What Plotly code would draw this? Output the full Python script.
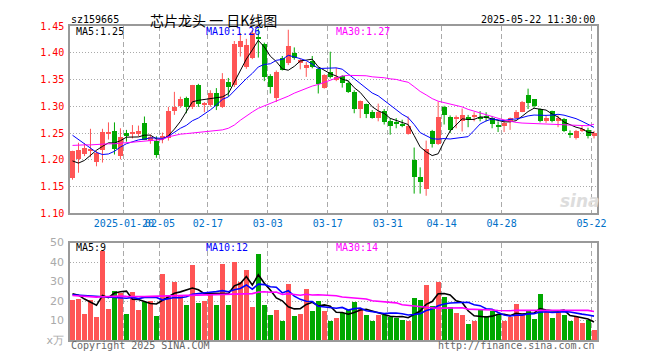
import numpy as np
import pandas as pd
import plotly.graph_objects as go

# ---------------- data ----------------
opens = [1.166,1.201,1.211,1.217,1.196,1.218,1.249,1.253,1.208,1.250,
         1.248,1.248,1.268,1.236,1.236,1.241,1.240,1.291,1.300,1.315,
         1.299,1.340,1.302,1.302,1.325,1.299,1.346,1.339,1.411,1.373,
         1.390,1.430,1.416,1.356,1.316,1.391,1.381,1.399,1.381,1.372,
         1.385,1.370,1.334,1.364,1.350,1.356,1.343,1.327,1.295,1.304,
         1.289,1.279,1.292,1.272,1.270,1.267,1.249,1.199,1.168,1.146,
         1.253,1.230,1.299,1.281,1.276,1.272,1.281,1.280,1.281,1.282,
         1.279,1.266,1.263,1.271,1.279,1.290,1.322,1.313,1.295,1.273,
         1.291,1.272,1.277,1.250,1.240,1.254,1.256,1.244]
highs = [1.217,1.232,1.231,1.258,1.217,1.258,1.270,1.270,1.259,1.256,
         1.265,1.264,1.281,1.247,1.244,1.251,1.299,1.327,1.318,1.318,
         1.340,1.342,1.308,1.330,1.334,1.362,1.353,1.422,1.437,1.426,
         1.442,1.445,1.419,1.360,1.367,1.394,1.443,1.410,1.389,1.383,
         1.394,1.373,1.360,1.402,1.372,1.358,1.348,1.330,1.311,1.305,
         1.293,1.305,1.295,1.278,1.278,1.275,1.281,1.223,1.186,1.236,
         1.256,1.309,1.301,1.283,1.283,1.296,1.284,1.289,1.291,1.289,
         1.282,1.272,1.275,1.279,1.293,1.310,1.333,1.313,1.296,1.283,
         1.292,1.283,1.278,1.255,1.256,1.264,1.260,1.254]
lows = [1.163,1.176,1.207,1.205,1.188,1.195,1.238,1.210,1.201,1.234,
        1.240,1.244,1.237,1.230,1.204,1.231,1.236,1.284,1.297,1.287,
        1.295,1.299,1.289,1.299,1.293,1.297,1.318,1.336,1.393,1.370,
        1.388,1.391,1.347,1.324,1.308,1.367,1.377,1.387,1.369,1.355,
        1.371,1.324,1.333,1.352,1.347,1.335,1.325,1.287,1.278,1.278,
        1.277,1.272,1.266,1.247,1.259,1.261,1.247,1.137,1.137,1.133,
        1.223,1.228,1.266,1.250,1.259,1.253,1.261,1.272,1.272,1.272,
        1.259,1.252,1.252,1.256,1.277,1.289,1.295,1.297,1.270,1.269,
        1.270,1.261,1.252,1.241,1.238,1.252,1.240,1.240]
closes = [1.216,1.219,1.222,1.221,1.212,1.252,1.252,1.221,1.242,1.245,
          1.252,1.254,1.238,1.242,1.210,1.245,1.291,1.299,1.314,1.299,
          1.339,1.305,1.307,1.325,1.300,1.351,1.336,1.417,1.422,1.415,
          1.437,1.425,1.355,1.336,1.365,1.368,1.413,1.391,1.386,1.377,
          1.373,1.342,1.359,1.354,1.355,1.343,1.327,1.295,1.310,1.285,
          1.279,1.289,1.271,1.264,1.267,1.264,1.264,1.168,1.158,1.221,
          1.229,1.281,1.283,1.255,1.281,1.283,1.275,1.284,1.278,1.278,
          1.267,1.263,1.269,1.278,1.289,1.308,1.307,1.300,1.272,1.278,
          1.272,1.278,1.253,1.248,1.254,1.258,1.244,1.250]
volumes = [21,21.5,13.5,21,12,46,16,25.5,24.5,13.5,
           25,15.5,19.5,20,12.5,34,23.5,30,23.5,18,
           38.5,19,20,24,18,39,18,40,30,36,
           17,44.4,18,13,15.4,9.8,29.2,12.4,13.4,26.6,
           15,20,15,10,11.3,14.2,15.8,19.5,16.3,12.9,
           9.8,12.9,13.2,12.2,11.5,10.3,9.8,22,20.7,28.6,
           17.5,29.8,22.5,17.1,13.9,12.9,8.5,9.8,15.6,12.4,
           14.9,13.5,9.8,11.9,18.5,12.9,14.9,10.8,23.6,14.4,
           11.3,14.4,12.9,9.8,11.9,8.8,10.3,5.2]

# moving-average values before the full window is available
ma5_head = [1.198,1.194,1.199,1.208]
ma10_head = [1.246,1.238,1.230,1.222,1.214,1.210,1.211,1.216,1.224]
ma30_head = [1.227,1.228,1.228,1.228,1.229,1.229,1.230,1.230,1.231,1.232,
             1.232,1.233,1.234,1.235,1.236,1.238,1.243,1.246,1.248,1.249,
             1.250,1.251,1.252,1.253,1.254,1.256,1.259,1.265,1.274]
vma5_head = [23.7,23.0,21.0,19.5]
vma10_head = [23.2,23.0,22.8,22.5,22.3,22.2,22.0,21.8,21.6]
vma30_head = [22.8,22.6,22.4,22.2,22.0,22.2,22.4,22.5,22.5,22.4,
              22.3,22.2,22.3,22.4,22.5,22.6,22.7,22.8,22.8,22.9,
              22.9,23.0,23.0,23.1,23.2,23.3,23.4,23.5,23.6]

tick_idx = [9,15,23,33,43,53,62,72,87]
tick_labels = ["2025-01-20","02-05","02-17","03-03","03-17","03-31","04-14","04-28","05-22"]
price_ticks = [1.10,1.15,1.20,1.25,1.30,1.35,1.40,1.45]
vol_ticks = [0,10,20,30,40,50]
vol_tick_labels = ["x万","10","20","30","40","50"]

title_text = "芯片龙头 一 日K线图"
code_text = "sz159665"
time_text = "2025-05-22 11:30:00"

# ---------------- derived ----------------
n = len(closes)
x = np.arange(n)
o = np.array(opens); c = np.array(closes); h = np.array(highs); l = np.array(lows)
v = np.array(volumes)
up = c >= o

def ma(arr, w, head):
    s = pd.Series(arr).rolling(w).mean().to_numpy()
    s[:len(head)] = head
    return s

ma5 = ma(c, 5, ma5_head); ma10 = ma(c, 10, ma10_head); ma30 = ma(c, 30, ma30_head)
vma5 = ma(v, 5, vma5_head); vma10 = ma(v, 10, vma10_head); vma30 = ma(v, 30, vma30_head)

RED = "#FF5555"; GREEN = "#00A800"
MONO = "DejaVu Sans Mono"

fig = go.Figure()

# wicks
for mask, col in [(up, RED), (~up, GREEN)]:
    wx, wy = [], []
    for i in np.where(mask)[0]:
        wx += [x[i], x[i], None]
        wy += [l[i], h[i], None]
    fig.add_trace(go.Scatter(x=wx, y=wy, mode="lines", line=dict(color=col, width=1),
                             hoverinfo="skip", xaxis="x", yaxis="y"))

# bodies
body_base = np.minimum(o, c)
body_h = np.maximum(np.abs(c - o), 0.0019)
fig.add_trace(go.Bar(x=x, y=body_h, base=body_base, width=5/6,
                     marker=dict(color=[RED if u else GREEN for u in up], line_width=0),
                     xaxis="x", yaxis="y"))

# price MAs
for s, col in [(ma5, "black"), (ma10, "#0000FF"), (ma30, "#FF00FF")]:
    fig.add_trace(go.Scatter(x=x, y=s, mode="lines", line=dict(color=col, width=1),
                             xaxis="x", yaxis="y"))

# volume
fig.add_trace(go.Bar(x=x, y=v, width=5/6,
                     marker=dict(color=[RED if u else GREEN for u in up], line_width=0),
                     xaxis="x2", yaxis="y2"))
for s, col in [(vma5, "black"), (vma10, "#0000FF"), (vma30, "#FF00FF")]:
    fig.add_trace(go.Scatter(x=x, y=s, mode="lines", line=dict(color=col, width=1.6),
                             xaxis="x2", yaxis="y2"))

# geometry (page pixels); page body has an 8px margin, so shift figure coords
OFF = 8
FW, FH = 660 - OFF, 360 - OFF
L, R, T, B = 70 - OFF, 597.5 - OFF, 20 - OFF, 340 - OFF
W, H = R - L, B - T
r0 = -2.5 / 6
xr = [r0, r0 + W / 6]
grid_vals = [i + r0 for i in tick_idx]

axcol = "#999999"
gridcol = "#AAAAAA"
xcommon = dict(range=xr, showline=True, linecolor=axcol, linewidth=1.5, mirror=True,
               tickmode="array", tickvals=grid_vals, showgrid=True, gridcolor=gridcol,
               griddash="5px,3px", gridwidth=1, zeroline=False, ticks="", tickangle=0)

def py(p):
    # p given in page pixels
    return (B - (p - OFF)) / H

def pxx(p):
    return ((p - OFF) - L) / W

fig.update_layout(
    width=FW, height=FH, margin=dict(l=L, r=FW - R, t=T, b=FH - B),
    paper_bgcolor="white", plot_bgcolor="white", showlegend=False, barmode="overlay",
    bargap=0,
    xaxis=dict(**xcommon, anchor="y", ticktext=tick_labels,
               tickfont=dict(family=MONO, size=10, color="#0070C8")),
    xaxis2=dict(**xcommon, anchor="y2", showticklabels=False, matches="x"),
    yaxis=dict(domain=[py(211), 1.0], range=[1.10, 1.45], tickmode="array",
               tickvals=price_ticks, ticktext=["%.2f" % t for t in price_ticks],
               tickfont=dict(family=MONO, size=10, color="#FF0000"),
               showline=True, linecolor=axcol, linewidth=1.5, mirror=True,
               showgrid=True, gridcolor=gridcol, griddash="1px,2px", zeroline=False,
               ticks="", ticklabelstandoff=2),
    yaxis2=dict(domain=[0, py(240.7)], range=[0, 50], tickmode="array",
                tickvals=vol_ticks, ticktext=vol_tick_labels,
                tickfont=dict(family="DejaVu Sans", size=11, color="#AAAAAA"),
                showline=True, linecolor=axcol, linewidth=1.5, mirror=True,
                showgrid=True, gridcolor=gridcol, griddash="1px,2px", zeroline=False,
                ticks="", ticklabelstandoff=2),
)

def ann(text, xpx, ypx, color="black", anchor="left", size=10, family=MONO, **kw):
    fig.add_annotation(text=text, x=pxx(xpx), y=py(ypx), xref="paper", yref="paper",
                       xanchor=anchor, yanchor="middle", showarrow=False,
                       font=dict(family=family, size=size, color=color), **kw)

ann(code_text, 69, 13)
ann(title_text, 213.5, 14, anchor="center", size=14, family="Noto Sans CJK SC")
ann(time_text, 598, 13, anchor="right")
ann("MA5:%.2f" % ma5[-1], 74, 26)
ann("MA10:%.2f" % ma10[-1], 204, 26, color="#0000FF")
ann("MA30:%.2f" % ma30[-1], 334, 26, color="#FF00FF")
ann("MA5:%d" % int(vma5[-1]), 74, 246)
ann("MA10:%d" % int(vma10[-1]), 204, 246, color="#0000FF")
ann("MA30:%d" % int(vma30[-1]), 334, 246, color="#FF00FF")
ann("Copyright 2025 SINA.COM", 69, 346, color="#666666")
ann("http://finance.sina.com.cn", 598, 346, color="#666666", anchor="right")
ann("<b><i>sina</i></b>", 580, 198, color="#DDDDDD", anchor="center", size=17, family="DejaVu Sans")

fig.write_html("out.html")
